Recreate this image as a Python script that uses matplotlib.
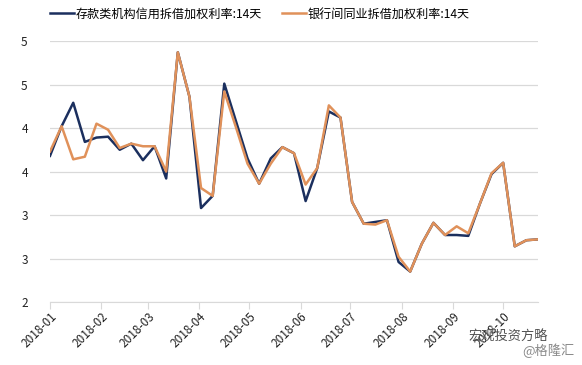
import matplotlib
matplotlib.use('Agg')
import matplotlib.pyplot as plt
import matplotlib.dates as mdates
import matplotlib.ticker as mticker
import pandas as pd

plt.rcParams['font.family'] = ['Noto Sans CJK SC', 'DejaVu Sans']

# 周度数据 2018-01-01 ~ 2018-10-22
dates = pd.date_range('2018-01-01', periods=43, freq='7D')

deposit_rate = [3.68, 4.02, 4.29, 3.84, 3.89, 3.90, 3.75, 3.82, 3.63, 3.79,
                3.42, 4.87, 4.36, 3.08, 3.22, 4.51, 4.08, 3.65, 3.36, 3.65,
                3.78, 3.71, 3.16, 3.54, 4.19, 4.12, 3.15, 2.90, 2.92, 2.94,
                2.46, 2.35, 2.67, 2.91, 2.77, 2.77, 2.76, 3.13, 3.47, 3.60,
                2.64, 2.71, 2.72]
interbank_rate = [3.73, 4.02, 3.64, 3.67, 4.05, 3.98, 3.77, 3.82, 3.79, 3.79,
                  3.50, 4.87, 4.36, 3.31, 3.22, 4.42, 4.01, 3.59, 3.36, 3.59,
                  3.78, 3.71, 3.35, 3.54, 4.26, 4.12, 3.15, 2.90, 2.89, 2.94,
                  2.52, 2.35, 2.67, 2.91, 2.77, 2.87, 2.79, 3.13, 3.48, 3.60,
                  2.64, 2.71, 2.72]
labels = ['存款类机构信用拆借加权利率:14天', '银行间同业拆借加权利率:14天']
y_ticks = [2, 2.5, 3, 3.5, 4, 4.5, 5]

fig = plt.figure(figsize=(5.82, 3.65), dpi=100)
ax = fig.add_axes([50 / 582, 1 - 302 / 365, 488 / 582, 261 / 365])

ax.plot(dates, deposit_rate, color='#1b2f5e', lw=1.8, label=labels[0])
ax.plot(dates, interbank_rate, color='#e0915a', lw=1.8, label=labels[1])

ax.set_xlim(dates[0], dates[-1])
ax.set_ylim(2, 5)
ax.set_yticks(y_ticks)
# y 轴标签取整显示 (Excel 风格)
ax.yaxis.set_major_formatter(mticker.FuncFormatter(lambda v, p: '%d' % int(v + 0.5)))
ax.tick_params(axis='y', length=0, pad=16, labelsize=8.5, colors='#222222')
ax.grid(axis='y', color='#d9d9d9', lw=0.9)
ax.set_axisbelow(True)

ax.xaxis.set_major_locator(mdates.MonthLocator())
ax.xaxis.set_major_formatter(mdates.DateFormatter('%Y-%m'))
ax.tick_params(axis='x', length=5, color='#d9d9d9', labelsize=8.5, colors='#222222', pad=1)
for lab in ax.get_xticklabels():
    lab.set_rotation(45)
    lab.set_ha('right')
    lab.set_rotation_mode('anchor')

for s in ['top', 'right', 'left']:
    ax.spines[s].set_visible(False)
ax.spines['bottom'].set_color('#d9d9d9')

fig.legend(loc='center left', bbox_to_anchor=(45 / 582, 1 - 14 / 365), ncol=2,
           frameon=False, fontsize=8.7, handlelength=2.0, handletextpad=0.15,
           columnspacing=1.6, borderaxespad=0)

# 水印
fig.text(468 / 582, 1 - 337 / 365, '宏观投资方略', fontsize=9.5, color='#505050', va='center')
fig.text(522 / 582, 1 - 351 / 365, '@格隆汇', fontsize=9.5, color='#8a8a8a', va='center')

fig.savefig('out.png', dpi=100)
